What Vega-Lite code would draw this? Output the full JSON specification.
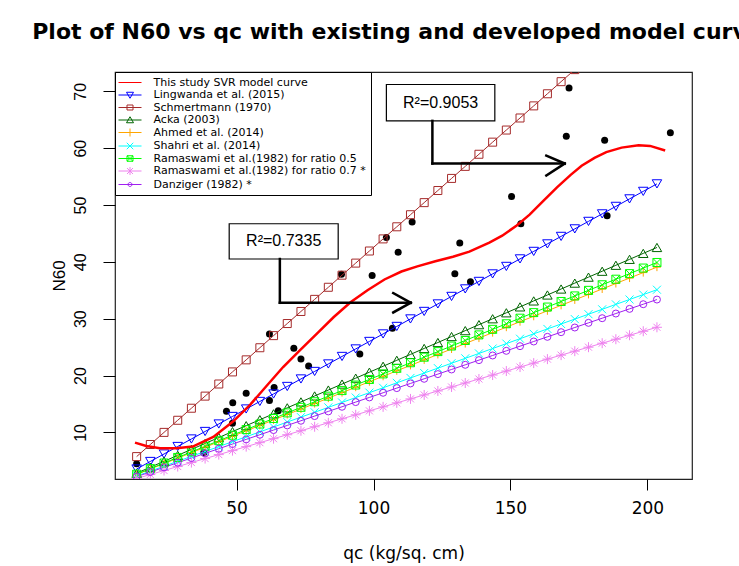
{
  "$schema": "https://vega.github.io/schema/vega-lite/v6.json",
  "autosize": {"type": "none"},
  "width": 577,
  "height": 407,
  "padding": {"left": 115, "top": 72, "right": 47, "bottom": 87},
  "background": "white",
  "config": {"font": "DejaVu Sans", "view": {"stroke": "#222", "strokeWidth": 1.2}},
  "title": {"text": "Plot of N60 vs qc with existing and developed model curves", "anchor": "middle", "font": "DejaVu Sans", "fontSize": 22, "fontWeight": "bold", "color": "black", "offset": 11, "baseline": "alphabetic"},
  "datasets": {
    "pts": [
      {"q": 13.5, "n": 4.5}, {"q": 38, "n": 6.4}, {"q": 48.5, "n": 11.6}, {"q": 46.3, "n": 13.7}, {"q": 48.6, "n": 15.2},
      {"q": 53.5, "n": 16.9}, {"q": 62, "n": 15.6}, {"q": 65.2, "n": 13.8}, {"q": 63.7, "n": 17.9}, {"q": 62, "n": 27.3},
      {"q": 70.9, "n": 24.8}, {"q": 73.5, "n": 22.9}, {"q": 76.3, "n": 21.7}, {"q": 95, "n": 23.8}, {"q": 106.9, "n": 28.3},
      {"q": 88.3, "n": 37.8}, {"q": 99.5, "n": 37.6}, {"q": 104.7, "n": 44.3}, {"q": 109, "n": 41.7}, {"q": 114.1, "n": 47.0},
      {"q": 129.7, "n": 37.9}, {"q": 131.5, "n": 43.3}, {"q": 135.4, "n": 36.5}, {"q": 150.4, "n": 51.5}, {"q": 153.8, "n": 46.7},
      {"q": 170.4, "n": 62.1}, {"q": 171.4, "n": 70.6}, {"q": 184.4, "n": 61.4}, {"q": 185.3, "n": 48.1}, {"q": 208.4, "n": 62.7}
    ],
    "lines": [
      {"m": "a", "q": 12.9, "n": 8.2}, {"m": "a", "q": 17, "n": 7.6}, {"m": "a", "q": 22, "n": 7.2}, {"m": "a", "q": 28, "n": 7.2},
      {"m": "a", "q": 34, "n": 7.5}, {"m": "a", "q": 41.5, "n": 9.2}, {"m": "a", "q": 48.7, "n": 11.9}, {"m": "a", "q": 55, "n": 14.9},
      {"m": "a", "q": 61, "n": 18.2}, {"m": "a", "q": 67, "n": 21.5}, {"m": "a", "q": 73, "n": 24.4}, {"m": "a", "q": 79.8, "n": 27.6},
      {"m": "a", "q": 85.5, "n": 30.3}, {"m": "a", "q": 91.6, "n": 32.9}, {"m": "a", "q": 97.8, "n": 35.0}, {"m": "a", "q": 104, "n": 36.9},
      {"m": "a", "q": 110.2, "n": 38.3}, {"m": "a", "q": 116, "n": 39.2}, {"m": "a", "q": 122.6, "n": 40.1}, {"m": "a", "q": 129, "n": 40.9},
      {"m": "a", "q": 135, "n": 41.8}, {"m": "a", "q": 142.3, "n": 43.4}, {"m": "a", "q": 147, "n": 44.6}, {"m": "a", "q": 152.3, "n": 46.4},
      {"m": "a", "q": 157, "n": 48.3}, {"m": "a", "q": 162.2, "n": 50.8}, {"m": "a", "q": 167, "n": 53.1}, {"m": "a", "q": 172, "n": 55.3},
      {"m": "a", "q": 176, "n": 56.9}, {"m": "a", "q": 180.7, "n": 58.3}, {"m": "a", "q": 185, "n": 59.3}, {"m": "a", "q": 190.6, "n": 60.1},
      {"m": "a", "q": 196.8, "n": 60.5}, {"m": "a", "q": 201, "n": 60.4}, {"m": "a", "q": 206.5, "n": 59.6},

      {"m": "b", "q": 13.5, "n": 3.56}, {"m": "b", "q": 18.5, "n": 4.88}, {"m": "b", "q": 23.5, "n": 6.20}, {"m": "b", "q": 28.5, "n": 7.52},
      {"m": "b", "q": 33.5, "n": 8.84}, {"m": "b", "q": 38.5, "n": 10.16}, {"m": "b", "q": 43.5, "n": 11.48}, {"m": "b", "q": 48.5, "n": 12.80},
      {"m": "b", "q": 53.5, "n": 14.12}, {"m": "b", "q": 58.5, "n": 15.44}, {"m": "b", "q": 63.5, "n": 16.76}, {"m": "b", "q": 68.5, "n": 18.08},
      {"m": "b", "q": 73.5, "n": 19.40}, {"m": "b", "q": 78.5, "n": 20.72}, {"m": "b", "q": 83.5, "n": 22.04}, {"m": "b", "q": 88.5, "n": 23.36},
      {"m": "b", "q": 93.5, "n": 24.68}, {"m": "b", "q": 98.5, "n": 26.00}, {"m": "b", "q": 103.5, "n": 27.32}, {"m": "b", "q": 108.5, "n": 28.64},
      {"m": "b", "q": 113.5, "n": 29.96}, {"m": "b", "q": 118.5, "n": 31.28}, {"m": "b", "q": 123.5, "n": 32.60}, {"m": "b", "q": 128.5, "n": 33.92},
      {"m": "b", "q": 133.5, "n": 35.24}, {"m": "b", "q": 138.5, "n": 36.56}, {"m": "b", "q": 143.5, "n": 37.88}, {"m": "b", "q": 148.5, "n": 39.20},
      {"m": "b", "q": 153.5, "n": 40.52}, {"m": "b", "q": 158.5, "n": 41.84}, {"m": "b", "q": 163.5, "n": 43.16}, {"m": "b", "q": 168.5, "n": 44.48},
      {"m": "b", "q": 173.5, "n": 45.80}, {"m": "b", "q": 178.5, "n": 47.12}, {"m": "b", "q": 183.5, "n": 48.44}, {"m": "b", "q": 188.5, "n": 49.76},
      {"m": "b", "q": 193.5, "n": 51.08}, {"m": "b", "q": 198.5, "n": 52.40}, {"m": "b", "q": 203.5, "n": 53.72},

      {"m": "c", "q": 13.5, "n": 5.74}, {"m": "c", "q": 18.5, "n": 7.87}, {"m": "c", "q": 23.5, "n": 10.00}, {"m": "c", "q": 28.5, "n": 12.13},
      {"m": "c", "q": 33.5, "n": 14.25}, {"m": "c", "q": 38.5, "n": 16.38}, {"m": "c", "q": 43.5, "n": 18.51}, {"m": "c", "q": 48.5, "n": 20.64},
      {"m": "c", "q": 53.5, "n": 22.76}, {"m": "c", "q": 58.5, "n": 24.89}, {"m": "c", "q": 63.5, "n": 27.02}, {"m": "c", "q": 68.5, "n": 29.15},
      {"m": "c", "q": 73.5, "n": 31.27}, {"m": "c", "q": 78.5, "n": 33.40}, {"m": "c", "q": 83.5, "n": 35.53}, {"m": "c", "q": 88.5, "n": 37.66},
      {"m": "c", "q": 93.5, "n": 39.78}, {"m": "c", "q": 98.5, "n": 41.91}, {"m": "c", "q": 103.5, "n": 44.04}, {"m": "c", "q": 108.5, "n": 46.17},
      {"m": "c", "q": 113.5, "n": 48.29}, {"m": "c", "q": 118.5, "n": 50.42}, {"m": "c", "q": 123.5, "n": 52.55}, {"m": "c", "q": 128.5, "n": 54.68},
      {"m": "c", "q": 133.5, "n": 56.80}, {"m": "c", "q": 138.5, "n": 58.93}, {"m": "c", "q": 143.5, "n": 61.06}, {"m": "c", "q": 148.5, "n": 63.19},
      {"m": "c", "q": 153.5, "n": 65.31}, {"m": "c", "q": 158.5, "n": 67.44}, {"m": "c", "q": 163.5, "n": 69.57}, {"m": "c", "q": 168.5, "n": 71.70},
      {"m": "c", "q": 173.5, "n": 73.82}, {"m": "c", "q": 178.5, "n": 75.95},

      {"m": "d", "q": 13.5, "n": 2.82}, {"m": "d", "q": 18.5, "n": 3.87}, {"m": "d", "q": 23.5, "n": 4.91}, {"m": "d", "q": 28.5, "n": 5.96},
      {"m": "d", "q": 33.5, "n": 7.00}, {"m": "d", "q": 38.5, "n": 8.05}, {"m": "d", "q": 43.5, "n": 9.09}, {"m": "d", "q": 48.5, "n": 10.14},
      {"m": "d", "q": 53.5, "n": 11.18}, {"m": "d", "q": 58.5, "n": 12.23}, {"m": "d", "q": 63.5, "n": 13.27}, {"m": "d", "q": 68.5, "n": 14.32},
      {"m": "d", "q": 73.5, "n": 15.36}, {"m": "d", "q": 78.5, "n": 16.41}, {"m": "d", "q": 83.5, "n": 17.45}, {"m": "d", "q": 88.5, "n": 18.50},
      {"m": "d", "q": 93.5, "n": 19.54}, {"m": "d", "q": 98.5, "n": 20.59}, {"m": "d", "q": 103.5, "n": 21.63}, {"m": "d", "q": 108.5, "n": 22.68},
      {"m": "d", "q": 113.5, "n": 23.72}, {"m": "d", "q": 118.5, "n": 24.77}, {"m": "d", "q": 123.5, "n": 25.81}, {"m": "d", "q": 128.5, "n": 26.86},
      {"m": "d", "q": 133.5, "n": 27.90}, {"m": "d", "q": 138.5, "n": 28.95}, {"m": "d", "q": 143.5, "n": 29.99}, {"m": "d", "q": 148.5, "n": 31.04},
      {"m": "d", "q": 153.5, "n": 32.08}, {"m": "d", "q": 158.5, "n": 33.13}, {"m": "d", "q": 163.5, "n": 34.17}, {"m": "d", "q": 168.5, "n": 35.22},
      {"m": "d", "q": 173.5, "n": 36.26}, {"m": "d", "q": 178.5, "n": 37.31}, {"m": "d", "q": 183.5, "n": 38.35}, {"m": "d", "q": 188.5, "n": 39.40},
      {"m": "d", "q": 193.5, "n": 40.44}, {"m": "d", "q": 198.5, "n": 41.49}, {"m": "d", "q": 203.5, "n": 42.53},

      {"m": "e", "q": 13.5, "n": 2.59}, {"m": "e", "q": 18.5, "n": 3.55}, {"m": "e", "q": 23.5, "n": 4.51}, {"m": "e", "q": 28.5, "n": 5.47},
      {"m": "e", "q": 33.5, "n": 6.43}, {"m": "e", "q": 38.5, "n": 7.39}, {"m": "e", "q": 43.5, "n": 8.35}, {"m": "e", "q": 48.5, "n": 9.31},
      {"m": "e", "q": 53.5, "n": 10.27}, {"m": "e", "q": 58.5, "n": 11.23}, {"m": "e", "q": 63.5, "n": 12.19}, {"m": "e", "q": 68.5, "n": 13.15},
      {"m": "e", "q": 73.5, "n": 14.11}, {"m": "e", "q": 78.5, "n": 15.07}, {"m": "e", "q": 83.5, "n": 16.03}, {"m": "e", "q": 88.5, "n": 16.99},
      {"m": "e", "q": 93.5, "n": 17.95}, {"m": "e", "q": 98.5, "n": 18.91}, {"m": "e", "q": 103.5, "n": 19.87}, {"m": "e", "q": 108.5, "n": 20.83},
      {"m": "e", "q": 113.5, "n": 21.79}, {"m": "e", "q": 118.5, "n": 22.75}, {"m": "e", "q": 123.5, "n": 23.71}, {"m": "e", "q": 128.5, "n": 24.67},
      {"m": "e", "q": 133.5, "n": 25.63}, {"m": "e", "q": 138.5, "n": 26.59}, {"m": "e", "q": 143.5, "n": 27.55}, {"m": "e", "q": 148.5, "n": 28.51},
      {"m": "e", "q": 153.5, "n": 29.47}, {"m": "e", "q": 158.5, "n": 30.43}, {"m": "e", "q": 163.5, "n": 31.39}, {"m": "e", "q": 168.5, "n": 32.35},
      {"m": "e", "q": 173.5, "n": 33.31}, {"m": "e", "q": 178.5, "n": 34.27}, {"m": "e", "q": 183.5, "n": 35.23}, {"m": "e", "q": 188.5, "n": 36.19},
      {"m": "e", "q": 193.5, "n": 37.15}, {"m": "e", "q": 198.5, "n": 38.11}, {"m": "e", "q": 203.5, "n": 39.07},

      {"m": "f", "q": 13.5, "n": 2.33}, {"m": "f", "q": 18.5, "n": 3.19}, {"m": "f", "q": 23.5, "n": 4.05}, {"m": "f", "q": 28.5, "n": 4.92},
      {"m": "f", "q": 33.5, "n": 5.78}, {"m": "f", "q": 38.5, "n": 6.64}, {"m": "f", "q": 43.5, "n": 7.50}, {"m": "f", "q": 48.5, "n": 8.37},
      {"m": "f", "q": 53.5, "n": 9.23}, {"m": "f", "q": 58.5, "n": 10.09}, {"m": "f", "q": 63.5, "n": 10.95}, {"m": "f", "q": 68.5, "n": 11.82},
      {"m": "f", "q": 73.5, "n": 12.68}, {"m": "f", "q": 78.5, "n": 13.54}, {"m": "f", "q": 83.5, "n": 14.40}, {"m": "f", "q": 88.5, "n": 15.27},
      {"m": "f", "q": 93.5, "n": 16.13}, {"m": "f", "q": 98.5, "n": 16.99}, {"m": "f", "q": 103.5, "n": 17.85}, {"m": "f", "q": 108.5, "n": 18.72},
      {"m": "f", "q": 113.5, "n": 19.58}, {"m": "f", "q": 118.5, "n": 20.44}, {"m": "f", "q": 123.5, "n": 21.30}, {"m": "f", "q": 128.5, "n": 22.17},
      {"m": "f", "q": 133.5, "n": 23.03}, {"m": "f", "q": 138.5, "n": 23.89}, {"m": "f", "q": 143.5, "n": 24.75}, {"m": "f", "q": 148.5, "n": 25.62},
      {"m": "f", "q": 153.5, "n": 26.48}, {"m": "f", "q": 158.5, "n": 27.34}, {"m": "f", "q": 163.5, "n": 28.20}, {"m": "f", "q": 168.5, "n": 29.07},
      {"m": "f", "q": 173.5, "n": 29.93}, {"m": "f", "q": 178.5, "n": 30.79}, {"m": "f", "q": 183.5, "n": 31.65}, {"m": "f", "q": 188.5, "n": 32.52},
      {"m": "f", "q": 193.5, "n": 33.38}, {"m": "f", "q": 198.5, "n": 34.24}, {"m": "f", "q": 203.5, "n": 35.10},

      {"m": "g", "q": 13.5, "n": 2.65}, {"m": "g", "q": 18.5, "n": 3.63}, {"m": "g", "q": 23.5, "n": 4.61}, {"m": "g", "q": 28.5, "n": 5.59},
      {"m": "g", "q": 33.5, "n": 6.57}, {"m": "g", "q": 38.5, "n": 7.55}, {"m": "g", "q": 43.5, "n": 8.53}, {"m": "g", "q": 48.5, "n": 9.51},
      {"m": "g", "q": 53.5, "n": 10.49}, {"m": "g", "q": 58.5, "n": 11.47}, {"m": "g", "q": 63.5, "n": 12.45}, {"m": "g", "q": 68.5, "n": 13.43},
      {"m": "g", "q": 73.5, "n": 14.41}, {"m": "g", "q": 78.5, "n": 15.39}, {"m": "g", "q": 83.5, "n": 16.37}, {"m": "g", "q": 88.5, "n": 17.35},
      {"m": "g", "q": 93.5, "n": 18.33}, {"m": "g", "q": 98.5, "n": 19.31}, {"m": "g", "q": 103.5, "n": 20.29}, {"m": "g", "q": 108.5, "n": 21.27},
      {"m": "g", "q": 113.5, "n": 22.25}, {"m": "g", "q": 118.5, "n": 23.23}, {"m": "g", "q": 123.5, "n": 24.21}, {"m": "g", "q": 128.5, "n": 25.19},
      {"m": "g", "q": 133.5, "n": 26.17}, {"m": "g", "q": 138.5, "n": 27.15}, {"m": "g", "q": 143.5, "n": 28.13}, {"m": "g", "q": 148.5, "n": 29.11},
      {"m": "g", "q": 153.5, "n": 30.09}, {"m": "g", "q": 158.5, "n": 31.07}, {"m": "g", "q": 163.5, "n": 32.05}, {"m": "g", "q": 168.5, "n": 33.03},
      {"m": "g", "q": 173.5, "n": 34.01}, {"m": "g", "q": 178.5, "n": 34.99}, {"m": "g", "q": 183.5, "n": 35.97}, {"m": "g", "q": 188.5, "n": 36.95},
      {"m": "g", "q": 193.5, "n": 37.93}, {"m": "g", "q": 198.5, "n": 38.91}, {"m": "g", "q": 203.5, "n": 39.89},

      {"m": "h", "q": 13.5, "n": 1.89}, {"m": "h", "q": 18.5, "n": 2.59}, {"m": "h", "q": 23.5, "n": 3.29}, {"m": "h", "q": 28.5, "n": 3.99},
      {"m": "h", "q": 33.5, "n": 4.69}, {"m": "h", "q": 38.5, "n": 5.39}, {"m": "h", "q": 43.5, "n": 6.09}, {"m": "h", "q": 48.5, "n": 6.79},
      {"m": "h", "q": 53.5, "n": 7.49}, {"m": "h", "q": 58.5, "n": 8.19}, {"m": "h", "q": 63.5, "n": 8.89}, {"m": "h", "q": 68.5, "n": 9.59},
      {"m": "h", "q": 73.5, "n": 10.29}, {"m": "h", "q": 78.5, "n": 10.99}, {"m": "h", "q": 83.5, "n": 11.69}, {"m": "h", "q": 88.5, "n": 12.39},
      {"m": "h", "q": 93.5, "n": 13.09}, {"m": "h", "q": 98.5, "n": 13.79}, {"m": "h", "q": 103.5, "n": 14.49}, {"m": "h", "q": 108.5, "n": 15.19},
      {"m": "h", "q": 113.5, "n": 15.89}, {"m": "h", "q": 118.5, "n": 16.59}, {"m": "h", "q": 123.5, "n": 17.29}, {"m": "h", "q": 128.5, "n": 17.99},
      {"m": "h", "q": 133.5, "n": 18.69}, {"m": "h", "q": 138.5, "n": 19.39}, {"m": "h", "q": 143.5, "n": 20.09}, {"m": "h", "q": 148.5, "n": 20.79},
      {"m": "h", "q": 153.5, "n": 21.49}, {"m": "h", "q": 158.5, "n": 22.19}, {"m": "h", "q": 163.5, "n": 22.89}, {"m": "h", "q": 168.5, "n": 23.59},
      {"m": "h", "q": 173.5, "n": 24.29}, {"m": "h", "q": 178.5, "n": 24.99}, {"m": "h", "q": 183.5, "n": 25.69}, {"m": "h", "q": 188.5, "n": 26.39},
      {"m": "h", "q": 193.5, "n": 27.09}, {"m": "h", "q": 198.5, "n": 27.79}, {"m": "h", "q": 203.5, "n": 28.49},

      {"m": "i", "q": 13.5, "n": 2.21}, {"m": "i", "q": 18.5, "n": 3.03}, {"m": "i", "q": 23.5, "n": 3.85}, {"m": "i", "q": 28.5, "n": 4.67},
      {"m": "i", "q": 33.5, "n": 5.49}, {"m": "i", "q": 38.5, "n": 6.31}, {"m": "i", "q": 43.5, "n": 7.13}, {"m": "i", "q": 48.5, "n": 7.95},
      {"m": "i", "q": 53.5, "n": 8.77}, {"m": "i", "q": 58.5, "n": 9.59}, {"m": "i", "q": 63.5, "n": 10.41}, {"m": "i", "q": 68.5, "n": 11.23},
      {"m": "i", "q": 73.5, "n": 12.05}, {"m": "i", "q": 78.5, "n": 12.87}, {"m": "i", "q": 83.5, "n": 13.69}, {"m": "i", "q": 88.5, "n": 14.51},
      {"m": "i", "q": 93.5, "n": 15.33}, {"m": "i", "q": 98.5, "n": 16.15}, {"m": "i", "q": 103.5, "n": 16.97}, {"m": "i", "q": 108.5, "n": 17.79},
      {"m": "i", "q": 113.5, "n": 18.61}, {"m": "i", "q": 118.5, "n": 19.43}, {"m": "i", "q": 123.5, "n": 20.25}, {"m": "i", "q": 128.5, "n": 21.07},
      {"m": "i", "q": 133.5, "n": 21.89}, {"m": "i", "q": 138.5, "n": 22.71}, {"m": "i", "q": 143.5, "n": 23.53}, {"m": "i", "q": 148.5, "n": 24.35},
      {"m": "i", "q": 153.5, "n": 25.17}, {"m": "i", "q": 158.5, "n": 25.99}, {"m": "i", "q": 163.5, "n": 26.81}, {"m": "i", "q": 168.5, "n": 27.63},
      {"m": "i", "q": 173.5, "n": 28.45}, {"m": "i", "q": 178.5, "n": 29.27}, {"m": "i", "q": 183.5, "n": 30.09}, {"m": "i", "q": 188.5, "n": 30.91},
      {"m": "i", "q": 193.5, "n": 31.73}, {"m": "i", "q": 198.5, "n": 32.55}, {"m": "i", "q": 203.5, "n": 33.37}
    ],
    "boxes": [
      {"q": 47.3, "q2": 87.1, "n": 46.7, "n2": 40.5},
      {"q": 104.7, "q2": 144.3, "n": 71.2, "n2": 64.8}
    ],
    "labels": [
      {"q": 67.2, "n": 43.6, "t": "R²=0.7335"},
      {"q": 124.5, "n": 68.0, "t": "R²=0.9053"}
    ],
    "arrows": [
      {"q": 65.8, "n": 40.5, "q2": 65.8, "n2": 32.8},
      {"q": 65.8, "n": 32.8, "q2": 113.6, "n2": 32.8},
      {"q": 107.2, "n": 34.5, "q2": 113.6, "n2": 32.8},
      {"q": 107.2, "n": 31.1, "q2": 113.6, "n2": 32.8},
      {"q": 121.5, "n": 64.8, "q2": 121.5, "n2": 57.3},
      {"q": 121.5, "n": 57.3, "q2": 169.8, "n2": 57.3},
      {"q": 163.1, "n": 58.7, "q2": 169.8, "n2": 57.3},
      {"q": 163.1, "n": 55.2, "q2": 169.8, "n2": 57.3}
    ]
  },
  "encoding": {
    "x": {"field": "q", "type": "quantitative", "scale": {"domain": [5.6, 216.3], "nice": false, "zero": false},
      "axis": {"values": [50, 100, 150, 200], "domain": false, "grid": false, "tickSize": 11, "tickColor": "black", "tickWidth": 1,
        "labelFont": "DejaVu Sans", "labelFontSize": 17, "labelColor": "black", "labelPadding": 10,
        "title": "qc (kg/sq. cm)", "titleFont": "DejaVu Sans", "titleFontSize": 17, "titleFontWeight": "normal", "titleColor": "black", "titlePadding": 29}},
    "y": {"field": "n", "type": "quantitative", "scale": {"domain": [1.8, 73.4], "nice": false, "zero": false},
      "axis": {"values": [10, 20, 30, 40, 50, 60, 70], "domain": false, "grid": false, "tickSize": 12, "tickColor": "black", "tickWidth": 1,
        "labelFont": "Liberation Sans", "labelFontSize": 16, "labelColor": "black", "labelAngle": -90, "labelAlign": "center", "labelBaseline": "bottom", "labelPadding": 15,
        "title": "N60", "titleFont": "Liberation Sans", "titleFontSize": 17, "titleFontWeight": "normal", "titleColor": "black", "titlePadding": 4}}
  },
  "layer": [
    {"data": {"name": "pts"}, "mark": {"type": "point", "shape": "circle", "filled": true, "color": "black", "size": 49, "opacity": 1}},
    {"data": {"name": "lines"}, "transform": [{"filter": "datum.m !== 'a'"}], "mark": {"type": "line", "strokeWidth": 1, "clip": true},
      "encoding": {"color": {"field": "m", "type": "nominal",
        "scale": {"domain": ["a","b","c","d","e","f","g","h","i"], "range": ["#FF0000","#0000FF","#A52A2A","#006400","#FFA500","#00FFFF","#00FF00","#EE82EE","#A020F0"]}}}},
    {"data": {"name": "lines"}, "transform": [{"filter": "datum.m === 'b'"}], "mark": {"type": "point", "shape": "triangle-down", "size": 90, "color": "#0000FF", "strokeWidth": 1, "opacity": 1, "clip": true}},
    {"data": {"name": "lines"}, "transform": [{"filter": "datum.m === 'c'"}], "mark": {"type": "point", "shape": "square", "size": 64, "color": "#A52A2A", "strokeWidth": 1, "opacity": 1, "clip": true}},
    {"data": {"name": "lines"}, "transform": [{"filter": "datum.m === 'd'"}], "mark": {"type": "point", "shape": "triangle-up", "size": 90, "color": "#006400", "strokeWidth": 1, "opacity": 1, "clip": true}},
    {"data": {"name": "lines"}, "transform": [{"filter": "datum.m === 'e'"}], "mark": {"type": "point", "shape": "M-1,0H1M0,-1V1", "size": 64, "color": "#FFA500", "strokeWidth": 1, "opacity": 1, "clip": true}},
    {"data": {"name": "lines"}, "transform": [{"filter": "datum.m === 'f'"}], "mark": {"type": "point", "shape": "M-1,-1L1,1M-1,1L1,-1", "size": 64, "color": "#00FFFF", "strokeWidth": 1, "opacity": 1, "clip": true}},
    {"data": {"name": "lines"}, "transform": [{"filter": "datum.m === 'g'"}], "mark": {"type": "point", "shape": "M-1,-1H1V1H-1ZM-1,-1L1,1M-1,1L1,-1", "size": 64, "color": "#00FF00", "strokeWidth": 1, "opacity": 1, "clip": true}},
    {"data": {"name": "lines"}, "transform": [{"filter": "datum.m === 'h'"}], "mark": {"type": "point", "shape": "M-1,0H1M0,-1V1M-0.7,-0.7L0.7,0.7M-0.7,0.7L0.7,-0.7", "size": 100, "color": "#EE82EE", "strokeWidth": 1, "opacity": 1, "clip": true}},
    {"data": {"name": "lines"}, "transform": [{"filter": "datum.m === 'i'"}], "mark": {"type": "point", "shape": "circle", "size": 49, "color": "#A020F0", "strokeWidth": 1, "opacity": 1, "clip": true}},
    {"data": {"name": "lines"}, "transform": [{"filter": "datum.m === 'a'"}], "mark": {"type": "line", "strokeWidth": 2.5, "clip": true},
      "encoding": {"color": {"field": "m", "type": "nominal"}}},
    {"data": {"name": "boxes"}, "mark": {"type": "rect", "fill": "white", "stroke": "black", "strokeWidth": 1.2},
      "encoding": {"x2": {"field": "q2"}, "y2": {"field": "n2"}}},
    {"data": {"name": "labels"}, "mark": {"type": "text", "font": "Liberation Sans", "fontSize": 16, "color": "black", "align": "center", "baseline": "middle"},
      "encoding": {"text": {"field": "t"}}},
    {"data": {"name": "arrows"}, "mark": {"type": "rule", "color": "black", "strokeWidth": 2.5, "strokeCap": "square"},
      "encoding": {"x2": {"field": "q2"}, "y2": {"field": "n2"}}},
    {"data": {"name": "lines"}, "transform": [{"filter": "false"}], "mark": {"type": "point", "filled": false, "strokeWidth": 1},
      "encoding": {
        "color": {"field": "m", "type": "nominal",
          "legend": {"title": null, "orient": "top-left", "offset": 0, "padding": 5, "strokeColor": "black", "fillColor": "white",
            "labelFont": "DejaVu Sans", "labelFontSize": 11, "labelColor": "black", "labelLimit": 400, "symbolSize": 100, "symbolStrokeWidth": 1,
            "symbolOffset": 4.5, "labelOffset": 18, "rowPadding": 0.5, "symbolOpacity": 1,
            "labelExpr": "({'a':'This study SVR model curve','b':'Lingwanda et al. (2015)','c':'Schmertmann (1970)','d':'Acka (2003)','e':'Ahmed et al. (2014)','f':'Shahri et al. (2014)','g':'Ramaswami et al.(1982) for ratio 0.5','h':'Ramaswami et al.(1982) for ratio 0.7 *','i':'Danziger (1982) *'})[datum.label]"}},
        "shape": {"field": "m", "type": "nominal",
          "scale": {"domain": ["a","b","c","d","e","f","g","h","i"],
            "range": ["M-2.3,0H2.3",
              "M-2.3,0H2.3M-0.7,-0.55H0.7L0,0.65Z",
              "M-2.3,0H2.3M-0.6,-0.5H0.6V0.5H-0.6Z",
              "M-2.3,0H2.3M-0.7,0.55H0.7L0,-0.65Z",
              "M-2.3,0H2.3M0,-0.8V0.8",
              "M-2.3,0H2.3M-0.65,-0.65L0.65,0.65M-0.65,0.65L0.65,-0.65",
              "M-2.3,0H2.3M-0.6,-0.55H0.6V0.55H-0.6ZM-0.6,-0.55L0.6,0.55M-0.6,0.55L0.6,-0.55",
              "M-2.3,0H2.3M0,-0.8V0.8M-0.6,-0.6L0.6,0.6M-0.6,0.6L0.6,-0.6",
              "M-2.3,0H2.3M-0.4,0A0.4,0.4,0,1,0,0.4,0A0.4,0.4,0,1,0,-0.4,0"]},
          "legend": {"title": null, "orient": "top-left", "offset": 0, "padding": 5, "strokeColor": "black", "fillColor": "white",
            "labelFont": "DejaVu Sans", "labelFontSize": 11, "labelColor": "black", "labelLimit": 400, "symbolSize": 100, "symbolStrokeWidth": 1,
            "symbolOffset": 4.5, "labelOffset": 18, "rowPadding": 0.5, "symbolOpacity": 1,
            "labelExpr": "({'a':'This study SVR model curve','b':'Lingwanda et al. (2015)','c':'Schmertmann (1970)','d':'Acka (2003)','e':'Ahmed et al. (2014)','f':'Shahri et al. (2014)','g':'Ramaswami et al.(1982) for ratio 0.5','h':'Ramaswami et al.(1982) for ratio 0.7 *','i':'Danziger (1982) *'})[datum.label]"}}
      }}
  ]
}
